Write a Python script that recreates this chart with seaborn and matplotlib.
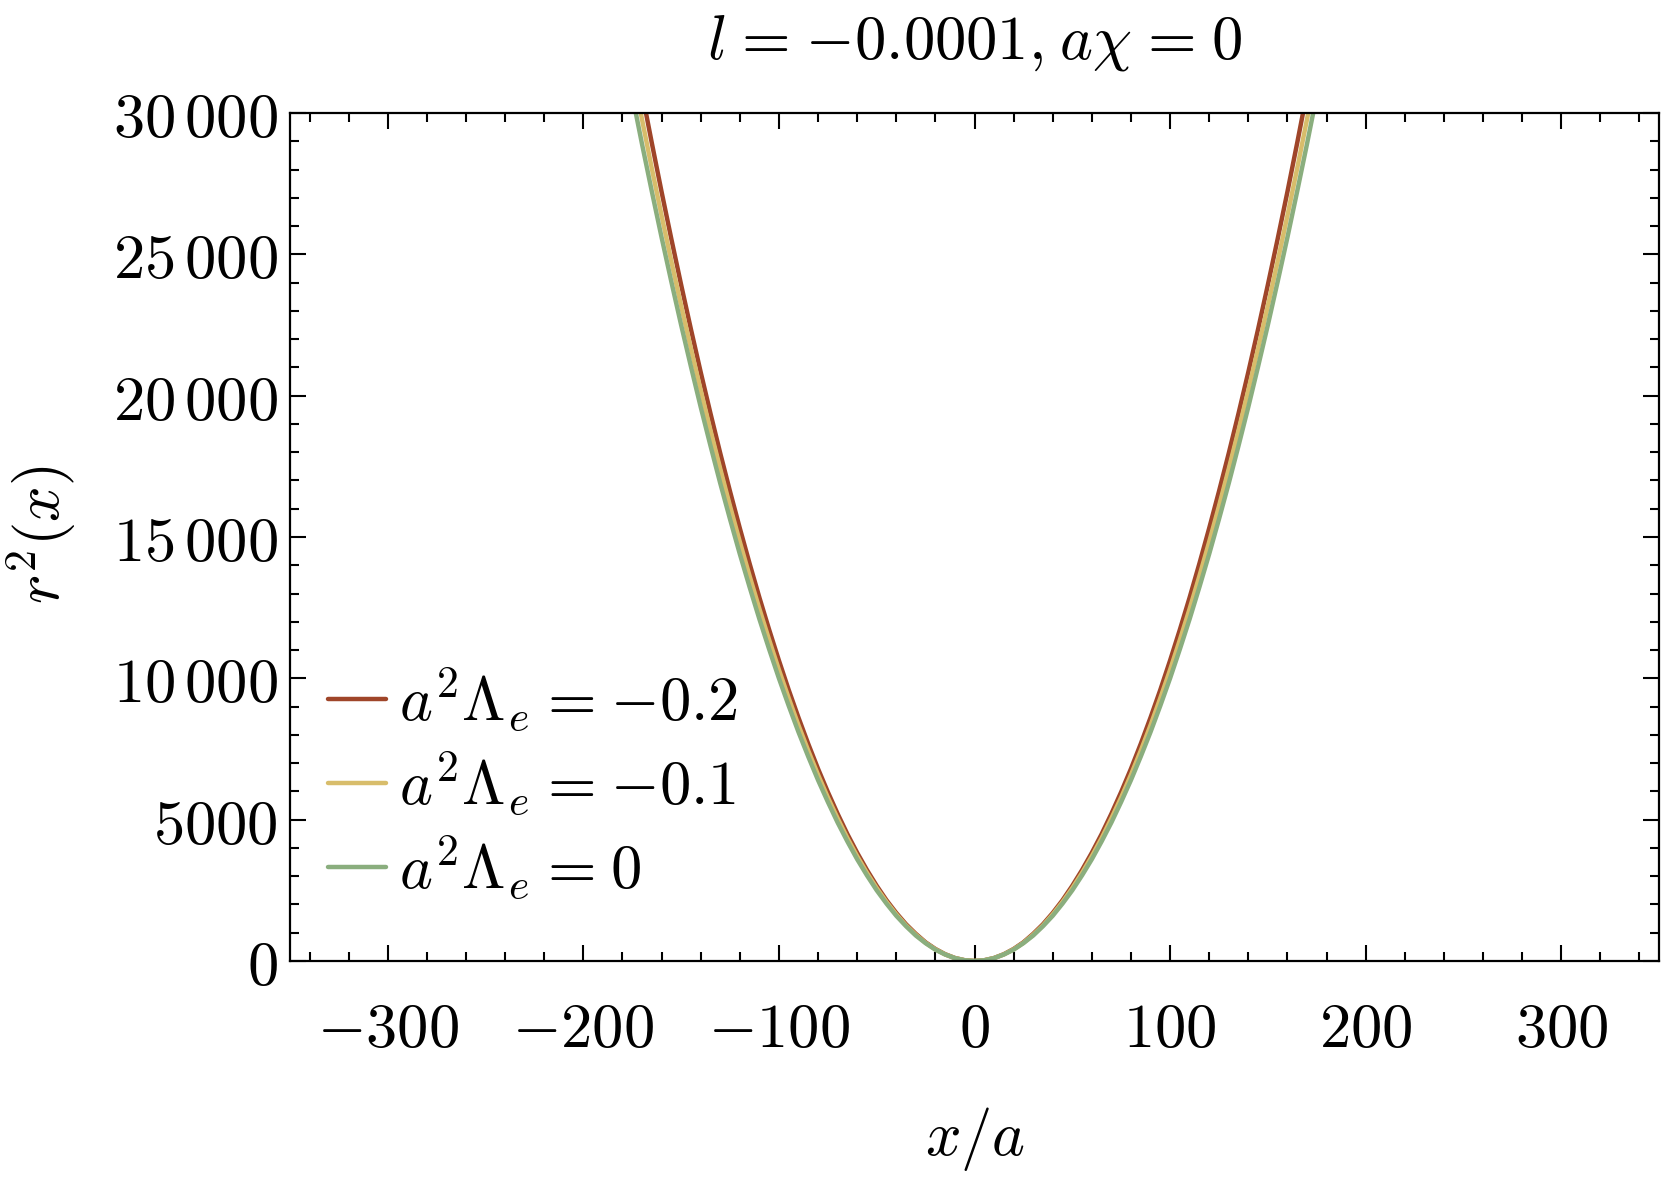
import numpy as np
import pandas as pd
import matplotlib
matplotlib.use("Agg")
import matplotlib.pyplot as plt
import seaborn as sns
from matplotlib.ticker import MultipleLocator, FixedLocator, FixedFormatter

# ---- data ----
x_vals = [-180, -175, -170, -165, -160, -155, -150, -145, -140, -135, -130, -125, -120, -115, -110, -105,
          -100, -95, -90, -85, -80, -75, -70, -65, -60, -55, -50, -45, -40, -35, -30, -25, -20, -15, -10, -5,
          0, 5, 10, 15, 20, 25, 30, 35, 40, 45, 50, 55, 60, 65, 70, 75, 80, 85, 90, 95,
          100, 105, 110, 115, 120, 125, 130, 135, 140, 145, 150, 155, 160, 165, 170, 175, 180]
r2_m02 = [34440, 32560, 30720, 28940, 27210, 25540, 23920, 22350, 20830, 19370, 17960, 16610, 15310, 14060, 12860, 11720,
          10630, 9590, 8610, 7680, 6800, 5980, 5210, 4490, 3830, 3220, 2660, 2150, 1700, 1300, 960, 660, 425, 240, 106, 27,
          0, 27, 106, 240, 425, 660, 960, 1300, 1700, 2150, 2660, 3220, 3830, 4490, 5210, 5980, 6800, 7680, 8610, 9590,
          10630, 11720, 12860, 14060, 15310, 16610, 17960, 19370, 20830, 22350, 23920, 25540, 27210, 28940, 30720, 32560, 34440]
r2_m01 = [33370, 31540, 29770, 28040, 26370, 24750, 23180, 21660, 20190, 18770, 17410, 16090, 14830, 13620, 12460, 11360,
          10300, 9300, 8340, 7440, 6590, 5790, 5050, 4350, 3710, 3120, 2580, 2090, 1650, 1260, 930, 640, 412, 232, 103, 26,
          0, 26, 103, 232, 412, 640, 930, 1260, 1650, 2090, 2580, 3120, 3710, 4350, 5050, 5790, 6590, 7440, 8340, 9300,
          10300, 11360, 12460, 13620, 14830, 16090, 17410, 18770, 20190, 21660, 23180, 24750, 26370, 28040, 29770, 31540, 33370]
r2_0 = [32400, 30630, 28900, 27230, 25600, 24030, 22500, 21030, 19600, 18230, 16900, 15630, 14400, 13230, 12100, 11030,
        10000, 9030, 8100, 7230, 6400, 5630, 4900, 4230, 3600, 3030, 2500, 2030, 1600, 1230, 900, 630, 400, 230, 100, 25,
        0, 25, 100, 230, 400, 630, 900, 1230, 1600, 2030, 2500, 3030, 3600, 4230, 4900, 5630, 6400, 7230, 8100, 9030,
        10000, 11030, 12100, 13230, 14400, 15630, 16900, 18230, 19600, 21030, 22500, 24030, 25600, 27230, 28900, 30630, 32400]
series_labels = [r'$a^2\Lambda_e\hspace{0.07}=\hspace{0.07}{-0.2}$',
                 r'$a^2\Lambda_e\hspace{0.07}=\hspace{0.07}{-0.1}$',
                 r'$a^2\Lambda_e\hspace{0.07}=\hspace{0.07}0$']
colors = ['#9F4529', '#D8BD6B', '#8AAE7E']

x_ticks = [-300, -200, -100, 0, 100, 200, 300]
x_ticklabels = [r'$-300$', r'$-200$', r'$-100$', r'$0$', r'$100$', r'$200$', r'$300$']
y_ticks = [0, 5000, 10000, 15000, 20000, 25000, 30000]
y_ticklabels = [r'$0$', r'$5000$', r'$10\,000$', r'$15\,000$', r'$20\,000$', r'$25\,000$', r'$30\,000$']

df = pd.concat([
    pd.DataFrame({'x': x_vals, 'r2': vals, 'series': lab})
    for vals, lab in zip([r2_m02, r2_m01, r2_0], series_labels)
])

sns.set_theme(style='ticks')
plt.rcParams['mathtext.fontset'] = 'cm'
plt.rcParams['font.family'] = ['DejaVu Serif']
plt.rcParams['text.color'] = 'black'
plt.rcParams['axes.labelcolor'] = 'black'
plt.rcParams['xtick.color'] = 'black'
plt.rcParams['ytick.color'] = 'black'
plt.rcParams['axes.edgecolor'] = 'black'

FS = 45
fig = plt.figure(figsize=(16.61, 11.86), dpi=100)
ax = fig.add_axes([290/1661, 1-961/1186, (1659-290)/1661, (961-113)/1186])

sns.lineplot(data=df, x='x', y='r2', hue='series', palette=dict(zip(series_labels, colors)),
             hue_order=series_labels, linewidth=3.2, sort=False, estimator=None, ax=ax)

ax.set_xlim(-350, 350)
ax.set_ylim(0, 30000)
ax.xaxis.set_major_locator(FixedLocator(x_ticks))
ax.xaxis.set_major_formatter(FixedFormatter(x_ticklabels))
ax.yaxis.set_major_locator(FixedLocator(y_ticks))
ax.yaxis.set_major_formatter(FixedFormatter(y_ticklabels))
ax.xaxis.set_minor_locator(MultipleLocator(20))
ax.yaxis.set_minor_locator(MultipleLocator(1000))

ax.tick_params(which='both', direction='in', top=True, right=True, color='black', labelcolor='black')
ax.tick_params(which='major', length=11.5, width=1.5)
ax.tick_params(which='minor', length=6.7, width=1.5)
ax.tick_params(axis='x', which='major', labelsize=FS, pad=27)
ax.tick_params(axis='y', which='major', labelsize=FS, pad=9)
for s in ax.spines.values():
    s.set_linewidth(1.6)
    s.set_color('black')

ax.set_xlabel('')
ax.set_ylabel('')
fig.text(975/1661, 1-1139/1186, r'$x/a$', fontsize=FS, ha='center', va='center', color='black')
fig.text(42/1661, 1-535/1186, r'$r^2(x)$', fontsize=FS, ha='center', va='center', rotation=90, color='black')
fig.text(975/1661, 1-42/1186,
         r'$l\hspace{0.09}=\hspace{0.09}{-0.0001},\hspace{0.05}a\chi\hspace{0.09}=\hspace{0.09}0$',
         fontsize=FS, ha='center', va='center', color='black')

leg = ax.legend(loc='center left', bbox_to_anchor=(38/1369, 0.209), frameon=False, fontsize=FS,
                handlelength=0.93, handletextpad=0.2, labelspacing=0.25, borderpad=0, borderaxespad=0)
for t in leg.get_texts():
    t.set_color('black')

fig.savefig('out.png', dpi=100)
